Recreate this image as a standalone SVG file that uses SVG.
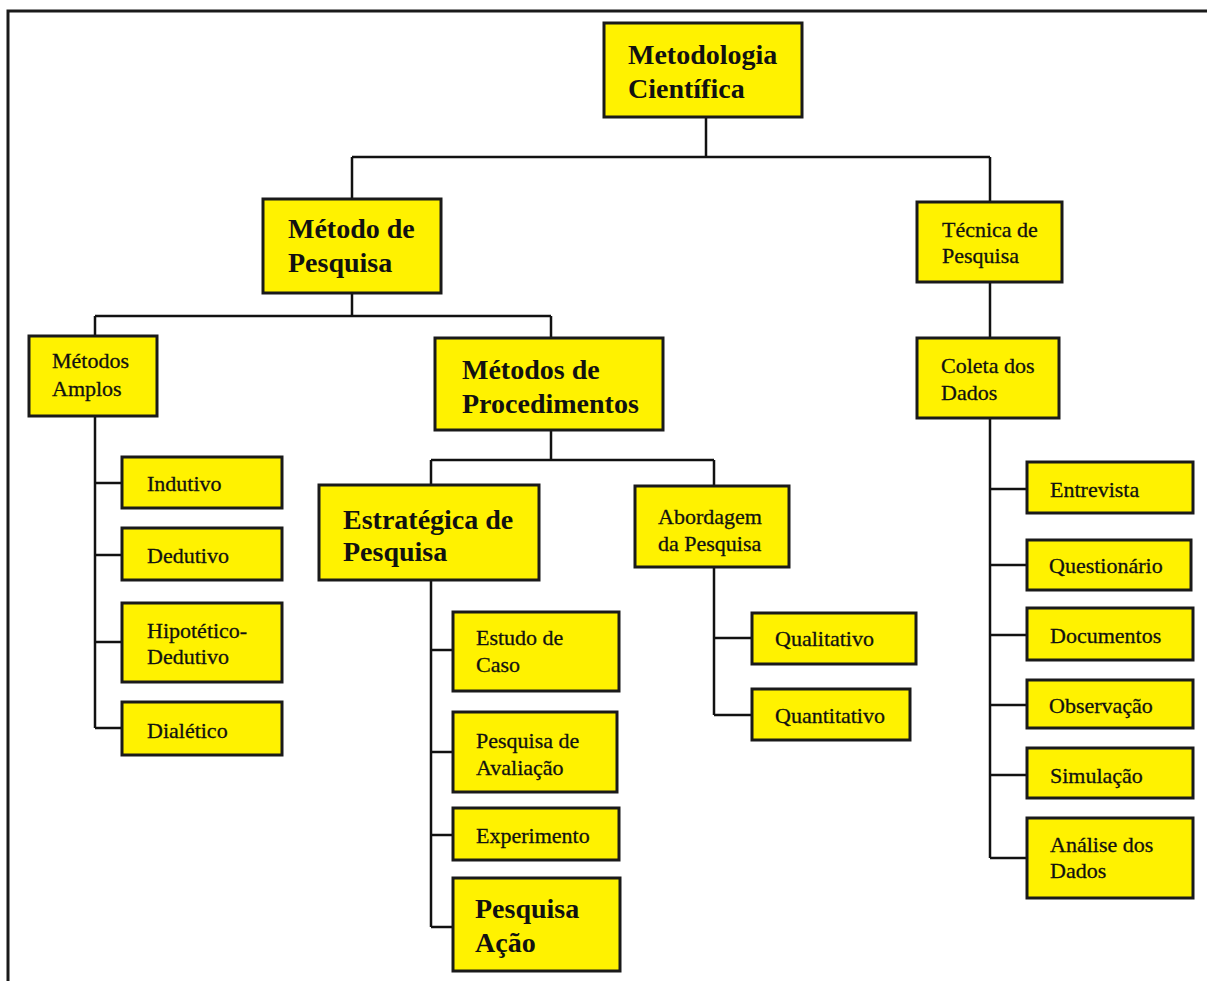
<svg xmlns="http://www.w3.org/2000/svg" width="1207" height="981" viewBox="0 0 1207 981">
<style>
.box{fill:#FFF200;stroke:#1a1a1a;stroke-width:3}
.b{font-family:"Liberation Serif","Times New Roman",serif;font-weight:bold;font-size:28px;fill:#111}
.r{font-family:"Liberation Serif","Times New Roman",serif;font-size:22px;fill:#111;stroke:#111;stroke-width:0.3}
.c{fill:none;stroke:#111;stroke-width:2.5}
</style>
<rect width="1207" height="981" fill="#fff"/>
<path d="M8 981 V11 H1207" fill="none" stroke="#1a1a1a" stroke-width="3"/>
<g id="connectors" class="c">
<path d="M706 117 V157 M352 157 H990 M352 157 V199 M990 157 V202"/>
<path d="M352 293 V316 M95 316 H551 M95 316 V336 M551 316 V338"/>
<path d="M95 416 V728 M95 483 H122 M95 555 H122 M95 642 H122 M95 728 H122"/>
<path d="M551 430 V460 M431 460 H714 M431 460 V485 M714 460 V486"/>
<path d="M431 580 V927 M431 650 H453 M431 752 H453 M431 835 H453 M431 927 H453"/>
<path d="M714 567 V715 M714 638 H752 M714 715 H752"/>
<path d="M990 282 V338"/>
<path d="M990 418 V858 M990 489 H1027 M990 565 H1027 M990 635 H1027 M990 705 H1027 M990 775 H1027 M990 858 H1027"/>
</g>
<g id="metodologia"><rect class="box" x="604" y="23" width="198" height="94"/><text class="b" x="628" y="64">Metodologia</text><text class="b" x="628" y="98">Científica</text></g>
<g id="metodo-pesquisa"><rect class="box" x="263" y="199" width="178" height="94"/><text class="b" x="288" y="238">Método de</text><text class="b" x="288" y="272">Pesquisa</text></g>
<g id="tecnica-pesquisa"><rect class="box" x="917" y="202" width="145" height="80"/><text class="r" x="942" y="237">Técnica de</text><text class="r" x="942" y="263">Pesquisa</text></g>
<g id="metodos-amplos"><rect class="box" x="29" y="336" width="128" height="80"/><text class="r" x="52" y="368">Métodos</text><text class="r" x="52" y="396">Amplos</text></g>
<g id="metodos-procedimentos"><rect class="box" x="435" y="338" width="228" height="92"/><text class="b" x="462" y="379">Métodos de</text><text class="b" x="462" y="413">Procedimentos</text></g>
<g id="estrategica"><rect class="box" x="319" y="485" width="220" height="95"/><text class="b" x="343" y="529">Estratégica de</text><text class="b" x="343" y="561">Pesquisa</text></g>
<g id="abordagem"><rect class="box" x="635" y="486" width="154" height="81"/><text class="r" x="658" y="524">Abordagem</text><text class="r" x="658" y="551">da Pesquisa</text></g>
<g id="coleta"><rect class="box" x="917" y="338" width="142" height="80"/><text class="r" x="941" y="373">Coleta dos</text><text class="r" x="941" y="400">Dados</text></g>
<g id="indutivo"><rect class="box" x="122" y="457" width="160" height="51"/><text class="r" x="147" y="491">Indutivo</text></g>
<g id="dedutivo"><rect class="box" x="122" y="528" width="160" height="52"/><text class="r" x="147" y="563">Dedutivo</text></g>
<g id="hipotetico"><rect class="box" x="122" y="603" width="160" height="79"/><text class="r" x="147" y="638">Hipotético-</text><text class="r" x="147" y="664">Dedutivo</text></g>
<g id="dialetico"><rect class="box" x="122" y="702" width="160" height="53"/><text class="r" x="147" y="738">Dialético</text></g>
<g id="estudo-caso"><rect class="box" x="453" y="612" width="166" height="79"/><text class="r" x="476" y="645">Estudo de</text><text class="r" x="476" y="672">Caso</text></g>
<g id="pesquisa-avaliacao"><rect class="box" x="453" y="712" width="164" height="80"/><text class="r" x="476" y="748">Pesquisa de</text><text class="r" x="476" y="775">Avaliação</text></g>
<g id="experimento"><rect class="box" x="453" y="808" width="166" height="52"/><text class="r" x="476" y="843">Experimento</text></g>
<g id="pesquisa-acao"><rect class="box" x="453" y="878" width="167" height="93"/><text class="b" x="475" y="918">Pesquisa</text><text class="b" x="475" y="952">Ação</text></g>
<g id="qualitativo"><rect class="box" x="752" y="613" width="164" height="51"/><text class="r" x="775" y="646">Qualitativo</text></g>
<g id="quantitativo"><rect class="box" x="752" y="689" width="158" height="51"/><text class="r" x="775" y="723">Quantitativo</text></g>
<g id="entrevista"><rect class="box" x="1027" y="462" width="166" height="51"/><text class="r" x="1050" y="497">Entrevista</text></g>
<g id="questionario"><rect class="box" x="1027" y="540" width="164" height="50"/><text class="r" x="1049" y="573">Questionário</text></g>
<g id="documentos"><rect class="box" x="1027" y="608" width="166" height="52"/><text class="r" x="1050" y="643">Documentos</text></g>
<g id="observacao"><rect class="box" x="1027" y="680" width="166" height="48"/><text class="r" x="1049" y="713">Observação</text></g>
<g id="simulacao"><rect class="box" x="1027" y="748" width="166" height="50"/><text class="r" x="1050" y="783">Simulação</text></g>
<g id="analise"><rect class="box" x="1027" y="818" width="166" height="80"/><text class="r" x="1050" y="852">Análise dos</text><text class="r" x="1050" y="878">Dados</text></g>
</svg>
